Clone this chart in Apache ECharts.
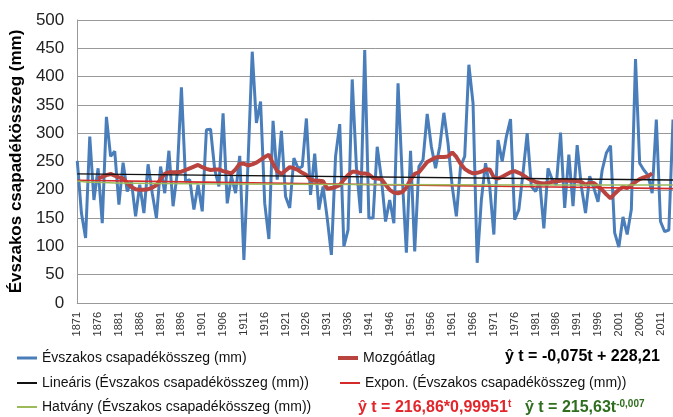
<!DOCTYPE html>
<html><head><meta charset="utf-8">
<script src="https://cdn.jsdelivr.net/npm/echarts@6/dist/echarts.min.js"></script>
<style>html,body{margin:0;padding:0;background:#fff}#c{width:673px;height:417px}</style>
</head><body><div id="c"></div>
<script>
// ---- data ----
const firstYear = 1871, lastYear = 2014;
const years = [];
for (let y = firstYear; y <= lastYear; y++) years.push(String(y));

const precip = [
251,159,115,294,182,238,141,329,259,268,
174,248,197,215,153,209,159,245,194,150,
241,194,269,171,230,381,215,218,165,209,
162,306,307,235,206,335,176,224,194,260,
76,250,444,318,356,176,113,322,218,304,
188,168,256,238,241,326,191,264,165,206,
150,85,259,316,100,129,395,241,159,447,
150,150,276,220,144,182,141,388,224,89,
269,91,241,253,334,276,238,276,336,282,
206,153,241,259,421,353,71,182,247,206,
121,288,250,294,325,147,165,230,300,206,
197,215,132,238,218,209,301,168,262,171,
279,206,159,224,203,179,235,265,278,124,
99,152,121,165,431,247,235,226,194,324,
144,126,129,324
];

const movingAvg = [
null,null,null,null,null,
220,223,226,228,225,222,220,212,205,201,
200,200,201,204,208,219,228,231,231,231,
232,235,238,241,244,240,237,235,236,236,
233,231,229,236,246,246,243,245,248,253,
258,262,246,233,228,234,240,238,235,230,
226,218,216,216,215,202,203,205,208,218,
226,232,232,229,229,227,221,220,219,209,
200,195,194,196,204,218,228,231,240,249,
253,257,258,258,259,266,258,246,237,232,
229,230,232,236,236,222,220,223,227,231,
233,230,226,221,217,214,212,211,212,214,
215,216,217,216,216,215,214,209,212,212,
206,200,192,185,193,200,205,203,208,214,
219,222,224,229,
null,null,null,null,null
];

const linearTrend = [['1871',228.1],['2014',217.4]];
const expTrend = [['1871',216.8],['1901',213.6],['1941',209.4],['1981',205.4],['2014',202.1]];
const powerTrend = [['1871',215.6],['1872',214.6],['1874',213.5],['1880',212.2],['1900',210.5],['1940',209.3],['1980',208.7],['2014',208.3]];

const yTicks = {min:0, max:500, interval:50};

const nSeries = 'Évszakos csapadékösszeg (mm)';
const nMA = 'Mozgóátlag';
const nLin = 'Lineáris (Évszakos csapadékösszeg (mm))';
const nExp = 'Expon. (Évszakos csapadékösszeg (mm))';
const nPow = 'Hatvány (Évszakos csapadékösszeg (mm))';

const FONT = '"Liberation Sans", Arial, sans-serif';
const legendText = {fontFamily: FONT, fontSize: 14, color: '#111', lineHeight: 16};

function leg(name, left, top, h){
  return {data:[name], left:left, top:top, icon:'rect', itemWidth:20, itemHeight:h,
          itemGap:0, padding:0, textStyle:legendText, selectedMode:false};
}

const chart = echarts.init(document.getElementById('c'), null, {renderer:'canvas'});
chart.setOption({
  animation:false,
  backgroundColor:'#fff',
  grid:{left:76, right:0, top:20, bottom:114, containLabel:false},
  xAxis:{
    type:'category', data:years, boundaryGap:false,
    axisLine:{lineStyle:{color:'#999', width:1}},
    axisTick:{show:false},
    axisLabel:{interval:4, rotate:90, fontFamily:FONT, fontSize:11, color:'#333', margin:9},
    splitLine:{show:false}
  },
  yAxis:{
    type:'value', min:yTicks.min, max:yTicks.max, interval:yTicks.interval,
    name:nSeries, nameLocation:'middle', nameRotate:90, nameGap:51,
    nameTextStyle:{fontFamily:FONT, fontSize:17, fontWeight:'bold', color:'#000'},
    axisLine:{show:true, lineStyle:{color:'#999'}},
    axisTick:{show:false},
    axisLabel:{fontFamily:FONT, fontSize:17, color:'#222', margin:13},
    splitLine:{lineStyle:{color:'#999', width:1}}
  },
  legend:[
    leg(nSeries, 17, 350, 3),
    leg(nMA, 338, 350, 4),
    leg(nLin, 17, 375, 2),
    leg(nExp, 340, 375, 2),
    leg(nPow, 17, 399, 2)
  ],
  graphic:[
    {type:'text', left:505, top:349, style:{text:'ŷ t = -0,075t + 228,21', fontFamily:FONT, fontSize:16, fontWeight:'bold', fill:'#000'}},
    {type:'text', left:358, top:399, style:{text:'ŷ t = 216,86*0,99951{s|t}', fontFamily:FONT, fontSize:16, fontWeight:'bold', fill:'#e3262b',
       rich:{s:{fontSize:10, fontWeight:'bold', fontFamily:FONT, fill:'#e3262b', verticalAlign:'top', padding:[0,0,8,0]}}}},
    {type:'text', left:525, top:399, style:{text:'ŷ t = 215,63t{s|-0,007}', fontFamily:FONT, fontSize:16, fontWeight:'bold', fill:'#2f6e1e',
       rich:{s:{fontSize:10, fontWeight:'bold', fontFamily:FONT, fill:'#2f6e1e', verticalAlign:'top', padding:[0,0,8,0]}}}}
  ],
  series:[
    {name:nSeries, type:'line', data:precip, showSymbol:false, symbol:'none',
     lineStyle:{color:'#4a7ebb', width:3}, itemStyle:{color:'#4a7ebb'}, z:2},
    {name:nMA, type:'line', data:movingAvg, showSymbol:false, symbol:'none', connectNulls:false,
     lineStyle:{color:'#b9433f', width:4}, itemStyle:{color:'#b9433f'}, z:3},
    {name:nLin, type:'line', data:linearTrend, showSymbol:false, symbol:'none',
     lineStyle:{color:'#111', width:1.4}, itemStyle:{color:'#111'}, z:4},
    {name:nExp, type:'line', data:expTrend, showSymbol:false, symbol:'none', smooth:true,
     lineStyle:{color:'#d42a2a', width:1.6}, itemStyle:{color:'#d42a2a'}, z:4},
    {name:nPow, type:'line', data:powerTrend, showSymbol:false, symbol:'none', smooth:true,
     lineStyle:{color:'#9bbb59', width:1.5}, itemStyle:{color:'#9bbb59'}, z:4}
  ]
});
</script></body></html>
